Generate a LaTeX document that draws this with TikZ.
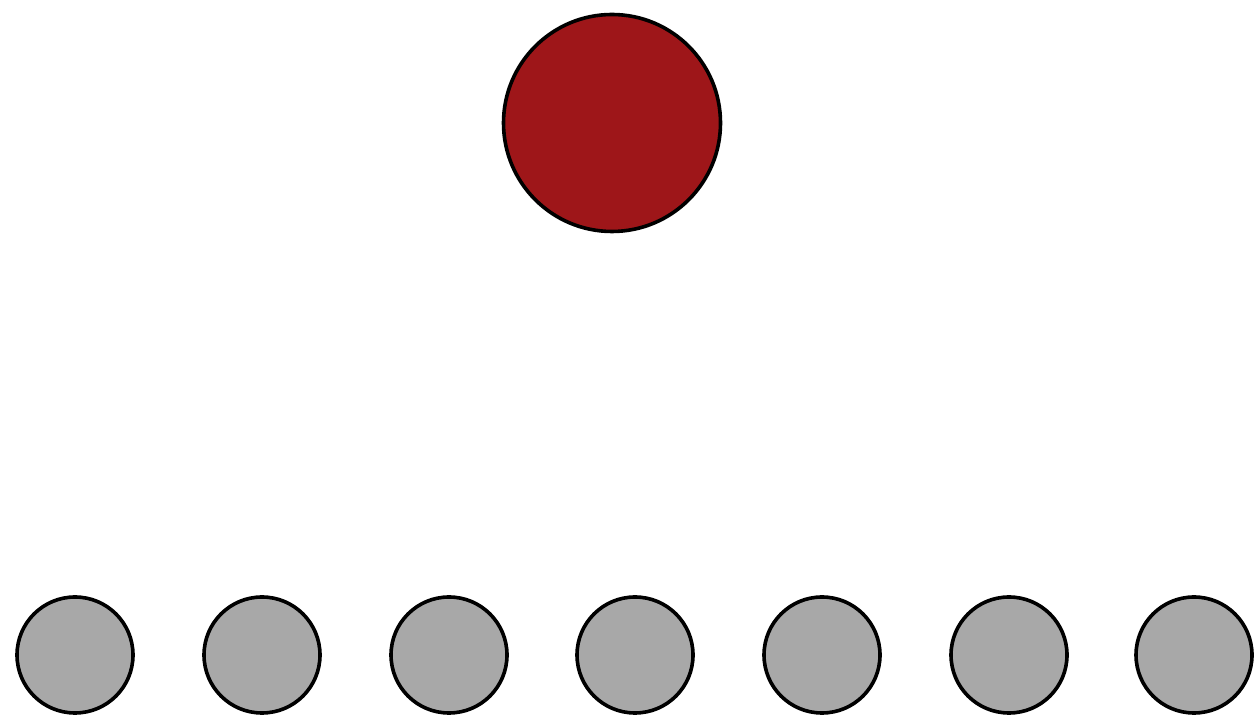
\documentclass[tikz,border=0pt]{standalone}
\definecolor{bigred}{RGB}{158,22,25}
\definecolor{smallgray}{RGB}{168,168,168}
\begin{document}
\begin{tikzpicture}[x=1pt,y=1pt,
  ball/.style={circle,draw=black,line width=3.6pt,inner sep=0pt},
  bigball/.style={ball,fill=bigred,minimum size=217pt},
  smallball/.style={ball,fill=smallgray,minimum size=116pt}]
\useasboundingbox (0,0) rectangle (1258,717);
\node[bigball] (top) at (612,594) {};
\foreach \i/\x in {1/75,2/262,3/449,4/635,5/822,6/1009,7/1194}
  \node[smallball] (b\i) at (\x,62) {};
\end{tikzpicture}
\end{document}
